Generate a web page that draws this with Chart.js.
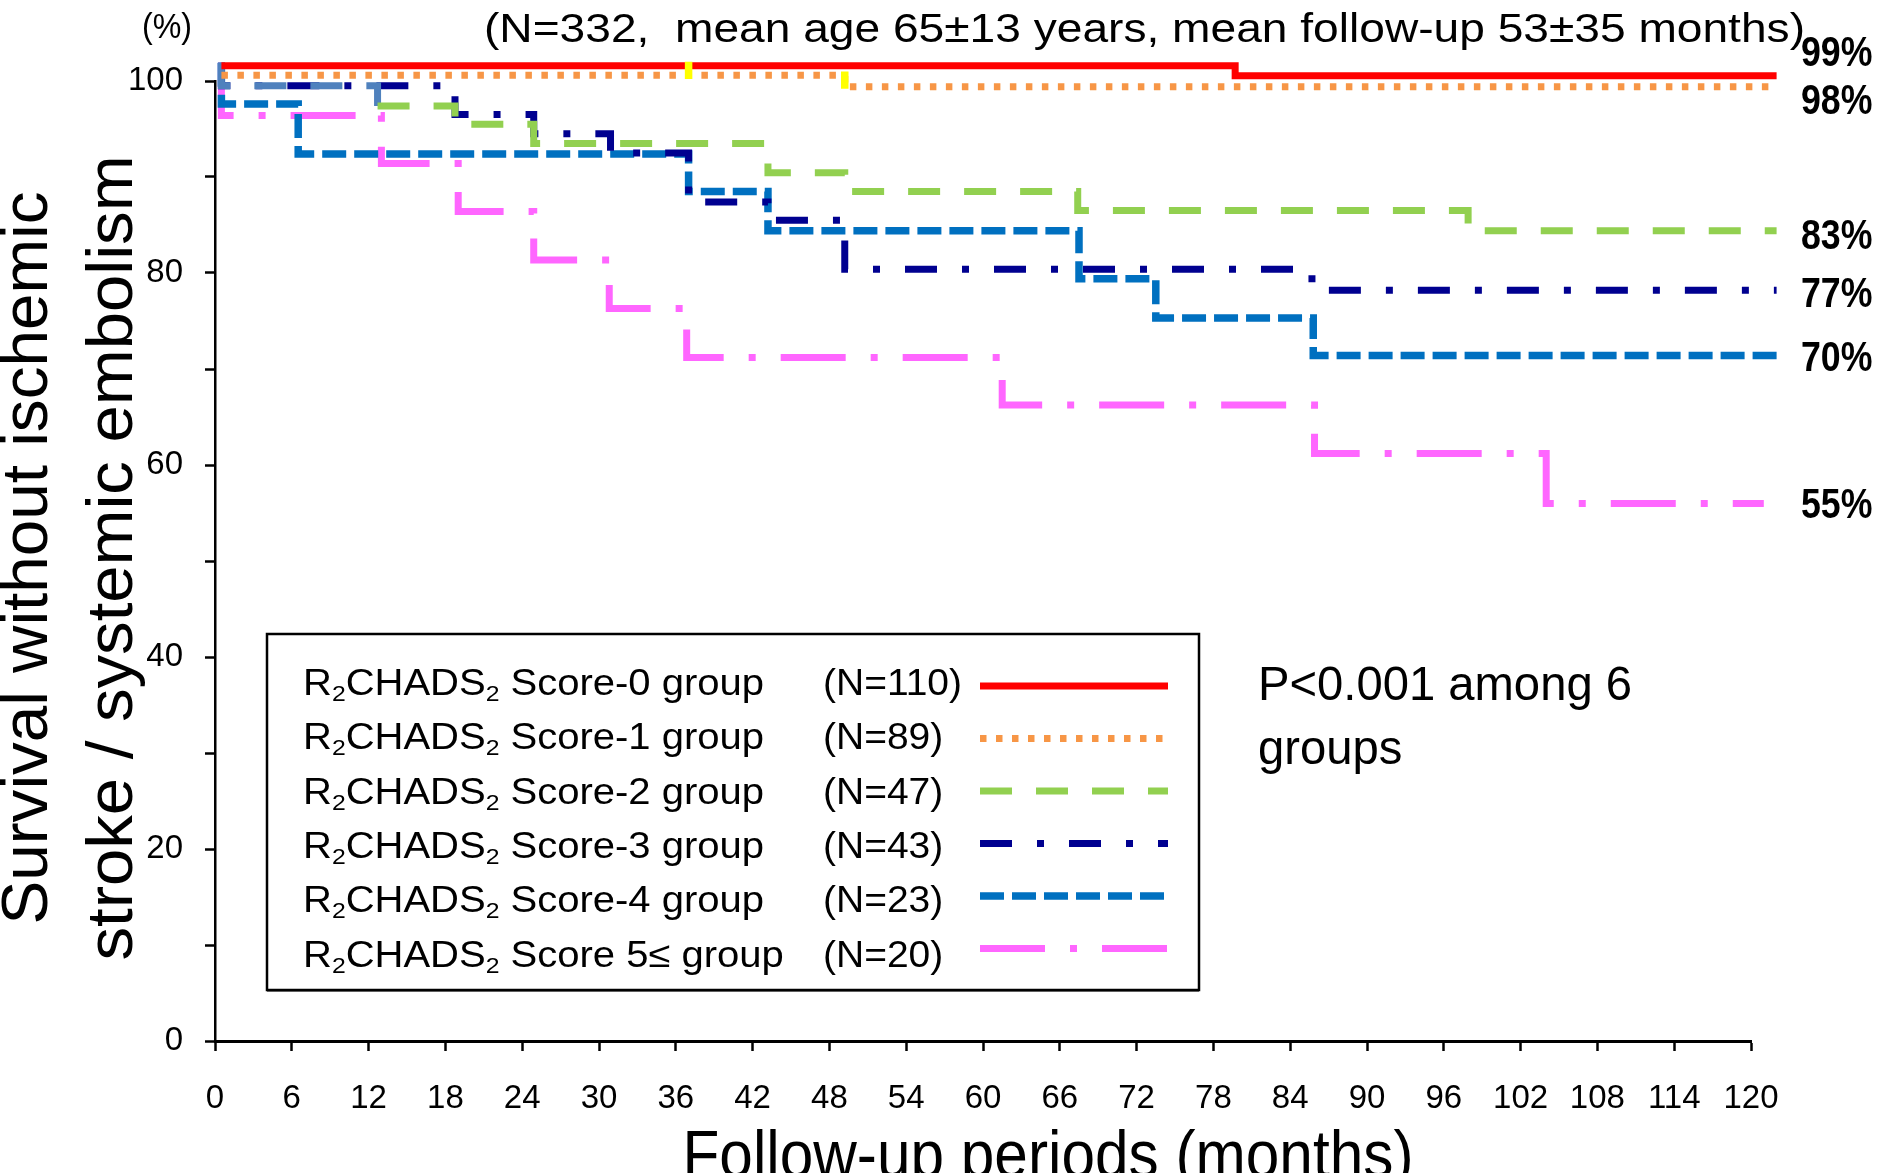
<!DOCTYPE html>
<html>
<head>
<meta charset="utf-8">
<title>Survival without ischemic stroke / systemic embolism by R2CHADS2 score</title>
<script src="https://cdn.jsdelivr.net/npm/chart.js@4.4.1/dist/chart.umd.min.js"></script>
<style>
  html, body { margin: 0; padding: 0; background: #fff; }
  #wrap { position: relative; width: 1883px; height: 1173px; }
</style>
</head>
<body>
<div id="wrap"><canvas id="km"></canvas></div>
<script>
// ===== groups =====
const groupNames = ["Score-0 group", "Score-1 group", "Score-2 group", "Score-3 group", "Score-4 group", "Score 5≤ group"];
const groupN = [110, 89, 47, 43, 23, 20];
const endLabels = ["99%", "98%", "83%", "77%", "70%", "55%"];

// ===== step curves (months, survival as plotted) =====
const months0 = [0.5, 79.7, 122];
const surv0 = [101.6, 100.55, 100.55];

const months1 = [0.5, 49.2, 122];
const surv1 = [100.6, 99.4, 99.4];

const months2 = [0.5, 0.5, 12.7, 18.75, 24.9, 43.2, 49.2, 67.4, 97.9, 122];
const surv2 = [101.9, 99.5, 97.4, 95.5, 93.5, 90.45, 88.5, 86.5, 84.4, 84.4];

const months3 = [0.5, 0.5, 18.75, 24.9, 30.9, 37.0, 43.2, 49.2, 85.7, 122];
const surv3 = [101.9, 99.5, 96.5, 94.5, 92.5, 87.4, 85.5, 80.4, 78.2, 78.2];

const months4 = [0.5, 0.5, 6.5, 37.0, 43.2, 67.5, 73.5, 85.8, 122];
const surv4 = [101.9, 97.6, 92.4, 88.5, 84.4, 79.4, 75.3, 71.4, 71.4];

const months5 = [0.5, 0.5, 13.0, 19.0, 24.9, 30.8, 36.85, 61.5, 85.9, 104.0, 121];
const surv5 = [101.9, 96.4, 91.4, 86.4, 81.35, 76.3, 71.2, 66.25, 61.2, 56.0, 56.0];

// yellow censor ticks (null = gap)
const censorMonths = [37.0, 37.0, 43.0, 49.2, 49.2];
const censorSurv = [102.0, 100.2, null, 101.0, 99.2];

// ===== styles =====
const FONT = "'Liberation Sans', Arial, sans-serif";
const lineColors = ["#ff0000", "#f79646", "#92d050", "#000090", "#0070c0", "#ff66ff"];
const lineDashes = [[], [6.5, 9.5], [32, 24], [32, 25, 7, 25], [24, 8], [65, 25, 7, 25]];
const lineWidths = [7, 7, 7, 7, 7.5, 7];
const endLabelShift = [-22, 15, 6, 5, 4, 3];

const allMonths = [months0, months1, months2, months3, months4, months5];
const allSurv = [surv0, surv1, surv2, surv3, surv4, surv5];

const toPoints = (ms, ss) => ms.map((m, i) => ({ x: m, y: ss[i] }));

const datasets = allMonths.map((ms, i) => ({
  label: groupNames[i],
  data: toPoints(ms, allSurv[i]),
  borderColor: lineColors[i],
  borderWidth: lineWidths[i],
  borderDash: lineDashes[i],
  borderCapStyle: "butt",
  borderJoinStyle: "miter",
  stepped: true,
  pointRadius: 0,
  fill: false,
  clip: false
}));

// the first step of the score-2 curve shows up steel blue in the original
datasets[2].segment = {
  borderColor: c => (c.p0DataIndex <= 1 ? "#4f81bd" : undefined)
};

datasets.push({
  label: "censor",
  data: toPoints(censorMonths, censorSurv),
  borderColor: "#ffff00",
  borderWidth: 7.5,
  borderCapStyle: "butt",
  pointRadius: 0,
  fill: false,
  clip: false,
  order: -1
});

// ===== text helpers =====
function drawScaled(ctx, text, x, y, sx, align) {
  const w = ctx.measureText(text).width;
  ctx.save();
  ctx.translate(x, y);
  ctx.scale(sx, 1);
  ctx.textAlign = "left";
  ctx.fillText(text, align === "center" ? -w / 2 : 0, 0);
  ctx.restore();
}

function fitText(ctx, text, x, y, font, width, align) {
  ctx.font = font;
  const sx = width / ctx.measureText(text).width;
  drawScaled(ctx, text, x, y, sx, align);
  return sx;
}

function richParts(name) {
  return [
    { t: "R" }, { t: "2", sub: true }, { t: "CHADS" }, { t: "2", sub: true },
    { t: " " + name }
  ];
}

function richWidth(ctx, parts, size) {
  let w = 0;
  parts.forEach(p => {
    ctx.font = (p.sub ? size * 0.62 : size) + "px " + FONT;
    w += ctx.measureText(p.t).width;
  });
  return w;
}

function drawRich(ctx, parts, x, y, size, sx) {
  ctx.save();
  ctx.translate(x, y);
  ctx.scale(sx, 1);
  ctx.textAlign = "left";
  let cx = 0;
  parts.forEach(p => {
    ctx.font = (p.sub ? size * 0.62 : size) + "px " + FONT;
    ctx.fillText(p.t, cx, p.sub ? size * 0.17 : 0);
    cx += ctx.measureText(p.t).width;
  });
  ctx.restore();
}

// ===== annotations, legend box =====
const annotations = {
  id: "annotations",
  afterDraw(chart) {
    const ctx = chart.ctx;
    const yScale = chart.scales.y;
    ctx.save();
    ctx.fillStyle = "#000";
    ctx.textBaseline = "alphabetic";

    // header
    fitText(ctx, "(N=332,  mean age 65±13 years, mean follow-up 53±35 months)",
      484, 42, "41px " + FONT, 1321, "left");
    fitText(ctx, "(%)", 142, 38, "35px " + FONT, 50, "left");

    // y title (two lines)
    ctx.save();
    ctx.translate(47, 558);
    ctx.rotate(-Math.PI / 2);
    fitText(ctx, "Survival without ischemic", 0, 0, "65px " + FONT, 733, "center");
    ctx.restore();
    ctx.save();
    ctx.translate(132, 558);
    ctx.rotate(-Math.PI / 2);
    fitText(ctx, "stroke / systemic embolism", 0, 0, "65px " + FONT, 805, "center");
    ctx.restore();

    // x title
    fitText(ctx, "Follow-up periods (months)", 1048, 1177, "66px " + FONT, 731, "center");

    // end percentages
    ctx.font = "bold 43px " + FONT;
    ctx.textBaseline = "middle";
    endLabels.forEach((lab, i) => {
      const s = allSurv[i];
      const py = yScale.getPixelForValue(s[s.length - 1]) + endLabelShift[i];
      drawScaled(ctx, lab, 1801, py, 0.83, "left");
    });
    ctx.textBaseline = "alphabetic";

    // legend box
    ctx.strokeStyle = "#000";
    ctx.lineWidth = 2.5;
    ctx.strokeRect(267, 634, 932, 356);
    ctx.lineWidth = 2;
    ctx.beginPath();
    ctx.moveTo(267, 990.5);
    ctx.lineTo(1199, 990.5);
    ctx.stroke();

    const size = 36;
    const sxName = 461 / richWidth(ctx, richParts(groupNames[0]), size);
    ctx.font = size + "px " + FONT;
    const sxN = 139 / ctx.measureText("(N=" + groupN[0] + ")").width;
    groupNames.forEach((name, i) => {
      const base = 695 + 54.3 * i;
      drawRich(ctx, richParts(name), 303, base, size, sxName);
      ctx.font = size + "px " + FONT;
      drawScaled(ctx, "(N=" + groupN[i] + ")", 823, base, sxN, "left");

      const ds = chart.data.datasets[i];
      const ly = 686 + 52.5 * i;
      ctx.save();
      ctx.strokeStyle = ds.borderColor;
      ctx.lineWidth = ds.borderWidth;
      ctx.lineCap = "butt";
      ctx.setLineDash(ds.borderDash || []);
      ctx.beginPath();
      ctx.moveTo(980, ly);
      ctx.lineTo(1168, ly);
      ctx.stroke();
      ctx.restore();
    });

    // p value
    const sxP = fitText(ctx, "P<0.001 among 6", 1258, 700, "48px " + FONT, 374, "left");
    ctx.font = "48px " + FONT;
    drawScaled(ctx, "groups", 1258, 764, sxP, "left");

    ctx.restore();
  }
};

// ===== chart =====
new Chart(document.getElementById("km"), {
  type: "line",
  data: { datasets: datasets },
  options: {
    responsive: true,
    maintainAspectRatio: false,
    animation: false,
    layout: { padding: { top: 81, right: 132, left: 0, bottom: 0 } },
    plugins: { legend: { display: false }, tooltip: { enabled: false } },
    scales: {
      x: {
        type: "linear",
        min: 0,
        max: 120,
        ticks: {
          stepSize: 6,
          autoSkip: false,
          maxRotation: 0,
          color: "#000",
          padding: 28,
          font: { size: 33, family: FONT }
        },
        grid: { drawOnChartArea: false, drawTicks: true, tickLength: 10, tickColor: "#000", tickWidth: 2.5 },
        border: { color: "#000", width: 3 },
        afterFit: s => { s.height = 132; }
      },
      y: {
        min: 0,
        max: 100,
        ticks: {
          stepSize: 10,
          color: "#000",
          padding: 22,
          font: { size: 33, family: FONT },
          callback: v => (v % 20 === 0 ? v : "")
        },
        grid: { drawOnChartArea: false, drawTicks: true, tickLength: 10, tickColor: "#000", tickWidth: 2.5 },
        border: { color: "#000", width: 2.5 },
        afterFit: s => { s.width = 215; }
      }
    }
  },
  plugins: [annotations]
});
</script>
</body>
</html>
